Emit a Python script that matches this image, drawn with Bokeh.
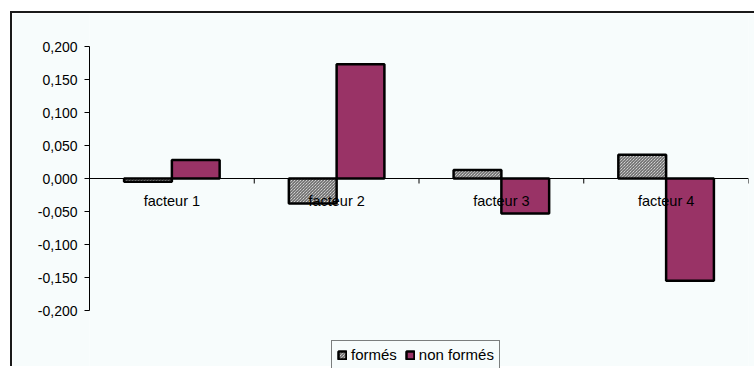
from bokeh.plotting import figure
from bokeh.models import (Range1d, CustomJSTickFormatter, Legend, LegendItem,
                          ColumnDataSource, SingleIntervalTicker)
from bokeh.core.properties import value
from bokeh.embed import file_html
from bokeh.resources import INLINE

# Scores per factor for the two groups
facteurs = ["facteur 1", "facteur 2", "facteur 3", "facteur 4"]
formes = [-0.005, -0.038, 0.013, 0.036]
non_formes = [0.028, 0.173, -0.053, -0.155]
series_labels = ["formés", "non formés"]

FONT = "Liberation Sans"
BG = "#f7fcfc"
BAR_W = 0.29                 # width of one bar, in category units

# page geometry (pixels)
CONTENT_X, CONTENT_Y = 12, 13            # inside the chart-area border
PLOT_LEFT, PLOT_RIGHT = 89, 748          # value-axis line / last category edge
Y_TOP_PX, Y_BOTTOM_PX = 46, 310          # +0.2 and -0.2
W, H = 756 - CONTENT_X, 368 - CONTENT_Y
Y_MAX, Y_MIN = 0.2, -0.2
px_per_unit = (Y_BOTTOM_PX - Y_TOP_PX) / (Y_MAX - Y_MIN)
zero_px = Y_TOP_PX + Y_MAX * px_per_unit
y_hi = (zero_px - CONTENT_Y) / px_per_unit
y_lo = -(368 - zero_px) / px_per_unit

centers = [i + 0.5 for i in range(len(facteurs))]
src = ColumnDataSource(dict(
    cat=facteurs,
    center=centers,
    x_formes=[c - BAR_W / 2 for c in centers],
    x_non=[c + BAR_W / 2 for c in centers],
    formes=formes,
    non_formes=non_formes,
))

p = figure(width=W, height=H, output_backend="svg", toolbar_location=None,
           x_range=Range1d(0, len(facteurs)), y_range=Range1d(y_lo, y_hi),
           x_axis_location=None,
           min_border_left=PLOT_LEFT - CONTENT_X,
           min_border_right=W - (PLOT_RIGHT - CONTENT_X),
           min_border_top=0, min_border_bottom=0)
p.outline_line_color = None
p.border_fill_color = BG
p.background_fill_color = BG
p.xgrid.visible = False
p.ygrid.visible = False
# chart-area border, open to the right and bottom
p.styles = {"margin-left": "10px", "margin-top": "11px",
            "border-left": "2px solid #1a1a1a", "border-top": "2px solid #1a1a1a"}

# value axis
yax = p.yaxis[0]
yax.bounds = (Y_MIN, Y_MAX)
yax.ticker = SingleIntervalTicker(interval=0.05)
yax.formatter = CustomJSTickFormatter(code="return tick.toFixed(3).replace('.', ',');")
yax.axis_line_color = "black"
yax.major_tick_line_color = "black"
yax.major_tick_in = 0
yax.major_tick_out = 5
yax.minor_tick_line_color = None
yax.major_label_standoff = 7
yax.major_label_text_font = FONT
yax.major_label_text_font_size = "14px"
yax.major_label_text_color = "black"

# category axis along zero
p.segment(x0=[0], y0=[0], x1=[len(facteurs)], y1=[0], line_color="black", line_width=1)
bounds = list(range(len(facteurs) + 1))
p.segment(x0=bounds, y0=[0] * len(bounds), x1=bounds, y1=[-5 / px_per_unit] * len(bounds),
          line_color="black", line_width=1)

r1 = p.vbar(x="x_formes", top="formes", bottom=0, width=BAR_W, source=src,
            fill_color="white", hatch_pattern="\\", hatch_color="#4a4a4a",
            hatch_scale=3, hatch_weight=1, line_color="black", line_width=2.5)
r2 = p.vbar(x="x_non", top="non_formes", bottom=0, width=BAR_W, source=src,
            fill_color="#993366", line_color="black", line_width=2.5)

p.text(x="center", y=0, text="cat", source=src, y_offset=22,
       text_align="center", text_baseline="middle",
       text_font=value(FONT), text_font_size="14.5px", text_color="black")

legend = Legend(items=[LegendItem(label=series_labels[0], renderers=[r1]),
                       LegendItem(label=series_labels[1], renderers=[r2])],
                orientation="horizontal", location=(331 - PLOT_LEFT, -1))
legend.padding = 5
legend.margin = 0
legend.spacing = 8
legend.glyph_width = 10
legend.glyph_height = 10
legend.label_standoff = 4
legend.label_height = 16
legend.label_text_font = FONT
legend.label_text_font_size = "15px"
legend.label_text_color = "black"
legend.border_line_color = "black"
legend.border_line_width = 1
legend.background_fill_color = BG
legend.background_fill_alpha = 1.0
p.add_layout(legend, "center")

open("out.html", "w").write(file_html(p, INLINE))
